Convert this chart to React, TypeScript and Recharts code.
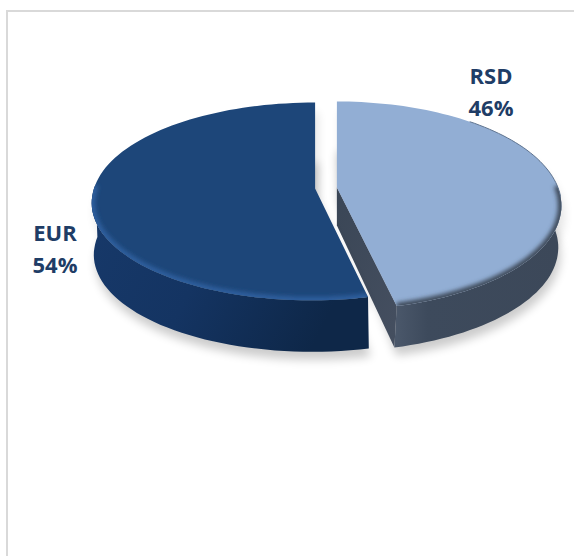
import { PieChart, Pie, Cell } from 'recharts'

const currencies = ['RSD', 'EUR']
const shares = [46.4, 53.6]
const topColors = ['#92aed4', '#1d4679']
const sliceData = currencies.map((name, i) => ({ name, value: shares[i] }))

const EXPLODE = 11
const RAD = Math.PI / 180

// the two exploded slices sit at a slightly different perspective
const looks: Record<string, { squash: number; tilt: number; depth: number; lean: number; shiftX: number }> = {
  RSD: { squash: 0.457, tilt: 0.175, depth: 42, lean: 0, shiftX: -2 },
  EUR: { squash: 0.44, tilt: 0.13, depth: 52, lean: 0.035, shiftX: 1 },
}

const labelSpots: Record<string, { x: number; y: number }> = {
  RSD: { x: 491, y: 84 },
  EUR: { x: 55, y: 241 },
}

const project = (name: string, cx: number, cy: number, r: number, deg: number, shrink = 1) => {
  const { squash, tilt, lean } = looks[name]
  const u = Math.cos(deg * RAD)
  const v = -Math.sin(deg * RAD)
  const w = 1 - tilt * v
  const dy = (shrink * r * squash * v) / w
  return {
    x: cx + (shrink * r * u) / w - lean * Math.max(0, dy),
    y: cy + dy,
    v,
  }
}

const toPath = (pts: { x: number; y: number }[], close = true) =>
  pts.map((p, i) => `${i ? 'L' : 'M'}${p.x.toFixed(1)},${p.y.toFixed(1)}`).join('') + (close ? 'Z' : '')

const Slice3D = (props: any) => {
  const { cx, cy, outerRadius, startAngle, endAngle, name } = props
  const isLight = name === 'RSD'
  const { depth, shiftX } = looks[name]
  const mid = (startAngle + endAngle) / 2
  const ox = cx + EXPLODE * Math.cos(mid * RAD)
  const oy = cy - EXPLODE * 0.45 * Math.sin(mid * RAD)

  const steps = 90
  const angles = Array.from({ length: steps + 1 }, (_, i) => startAngle + ((endAngle - startAngle) * i) / steps)
  const top = angles.map((a) => project(name, ox, oy, outerRadius, a))
  const base = angles.map((a) => project(name, ox + shiftX, oy + depth, outerRadius, a, 0.995))
  const vertex = { x: ox, y: oy }
  const faceD = toPath([vertex, ...top])
  // only the near half of the rim shows a wall
  const nearTop = top.filter((p) => p.v > -0.04)
  const nearBase = base.filter((p) => p.v > -0.04)
  const sideD = toPath([...nearTop, ...[...nearBase].reverse()])
  const id = `face-${name}`

  return (
    <g>
      <path d={toPath([{ x: ox, y: oy + 10 }, ...base])} fill="#000" opacity={0.2} filter="url(#softShadow)" transform="translate(2,8)" />
      <path d={faceD} fill="#000" opacity={0.1} filter="url(#softShadow)" transform="translate(3,10)" />
      {isLight && (
        <path d={toPath([vertex, top[steps], base[steps], { x: ox, y: oy + 38 }])} fill="url(#innerWall)" />
      )}
      <path d={sideD} fill={isLight ? 'url(#wallLight)' : 'url(#wallDark)'} />
      <clipPath id={id}>
        <path d={faceD} />
      </clipPath>
      <path d={faceD} fill={props.fill} />
      <g clipPath={`url(#${id})`}>
        <path
          d={toPath(nearTop, false)}
          fill="none"
          stroke={isLight ? '#3c4859' : '#2f5f9e'}
          strokeWidth={7}
          filter="url(#rimBlur)"
        />
      </g>
      {isLight && (
        <path d={toPath(top.filter((p) => p.v < 0.1 && p.v > -0.75), false)} fill="none" stroke="#5f7490" strokeWidth={1} />
      )}
    </g>
  )
}

const SliceLabel = (props: any) => {
  const spot = labelSpots[props.name]
  return (
    <text x={spot.x} y={spot.y} textAnchor="middle" fontFamily="'Open Sans'" fontWeight={700} fontSize={22} fill="#1f3d66">
      <tspan x={spot.x}>{props.name}</tspan>
      <tspan x={spot.x} dy={32}>{`${Math.round(props.percent * 100)}%`}</tspan>
    </text>
  )
}

const App = () => {
  return (
    <div style={{ position: 'absolute', left: 0, top: 0, width: 574, height: 556, overflow: 'hidden', background: '#fff' }}>
      <div
        style={{
          position: 'absolute',
          left: 6,
          top: 10,
          width: 600,
          height: 600,
          borderLeft: '2px solid #d9d9d9',
          borderTop: '2px solid #d9d9d9',
        }}
      />
      <PieChart width={574} height={556} margin={{ top: 0, right: 0, bottom: 0, left: 0 }} style={{ position: 'absolute', left: 0, top: 0 }}>
        <defs>
          <filter id="softShadow" x="-20%" y="-20%" width="140%" height="140%">
            <feGaussianBlur stdDeviation="5" />
          </filter>
          <filter id="rimBlur" x="-10%" y="-20%" width="120%" height="140%">
            <feGaussianBlur stdDeviation="2.2" />
          </filter>
          <linearGradient id="wallDark" x1="0" y1="0" x2="1" y2="0.3">
            <stop offset="0" stopColor="#17396a" />
            <stop offset="0.5" stopColor="#143462" />
            <stop offset="1" stopColor="#0e2748" />
          </linearGradient>
          <linearGradient id="wallLight" x1="0" y1="0" x2="1" y2="0">
            <stop offset="0" stopColor="#4b586b" />
            <stop offset="0.2" stopColor="#3d4a5c" />
            <stop offset="1" stopColor="#3c4859" />
          </linearGradient>
          <linearGradient id="innerWall" x1="0" y1="0" x2="1" y2="1">
            <stop offset="0" stopColor="#3a4656" />
            <stop offset="1" stopColor="#454f60" />
          </linearGradient>
        </defs>
        <Pie
          data={sliceData}
          dataKey="value"
          nameKey="name"
          cx={326}
          cy={188}
          outerRadius={221}
          startAngle={90}
          endAngle={-270}
          stroke="none"
          shape={Slice3D}
          label={SliceLabel}
          labelLine={false}
          isAnimationActive={false}
        >
          {sliceData.map((d, i) => (
            <Cell key={d.name} fill={topColors[i]} />
          ))}
        </Pie>
      </PieChart>
    </div>
  )
}

export default App
